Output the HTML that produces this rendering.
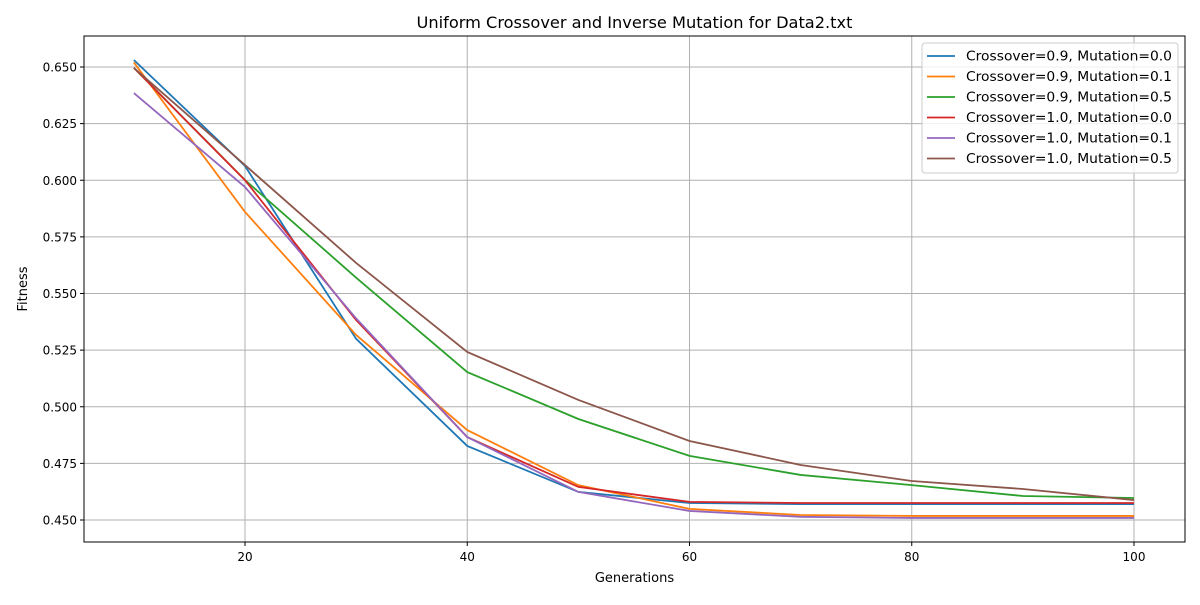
<!DOCTYPE html>
<html><head><meta charset="utf-8"><style>
body{margin:0;background:#fff;font-family:"Liberation Sans","DejaVu Sans",sans-serif;}
svg text{font-family:"DejaVu Sans","Liberation Sans",sans-serif;}
</style></head><body>
<svg id="chart" width="1200" height="600" xmlns="http://www.w3.org/2000/svg">
<rect width="1200" height="600" fill="#fff"/>
<g id="grid"></g><g id="lines"></g><g id="axes"></g>
<text x="634.5" y="28" text-anchor="middle" font-size="16.2">Uniform Crossover and Inverse Mutation for Data2.txt</text>
<text x="634.5" y="582" text-anchor="middle" font-size="13">Generations</text>
<text transform="translate(27,289) rotate(-90)" text-anchor="middle" font-size="13">Fitness</text>
<g id="legend"></g>
</svg>
<script>
const generations=[10,20,30,40,50,60,70,80,90,100];
const seriesNames=["Crossover=0.9, Mutation=0.0","Crossover=0.9, Mutation=0.1","Crossover=0.9, Mutation=0.5","Crossover=1.0, Mutation=0.0","Crossover=1.0, Mutation=0.1","Crossover=1.0, Mutation=0.5"];
const s1=[0.6531,0.6063,0.530,0.4827,0.4624,0.4575,0.457,0.457,0.457,0.457];
const s2=[0.652,0.586,0.5317,0.4897,0.4654,0.4549,0.4522,0.4518,0.4518,0.4518];
const s3=[0.6496,0.6001,0.557,0.5153,0.4946,0.4783,0.4699,0.4654,0.4606,0.4597];
const s4=[0.6496,0.600,0.5383,0.4866,0.4646,0.458,0.4575,0.4575,0.4575,0.4575];
const s5=[0.6385,0.597,0.539,0.4866,0.4624,0.454,0.4514,0.4509,0.4509,0.4509];
const s6=[0.6496,0.6067,0.5635,0.5242,0.503,0.4849,0.4743,0.4672,0.4637,0.4588];
const xTicks=[20,40,60,80,100];
const yTicks=[0.450,0.475,0.500,0.525,0.550,0.575,0.600,0.625,0.650];
const colors=["#1f77b4","#ff7f0e","#2ca02c","#d62728","#9467bd","#8c564b"];
const L=84,R=1185,T=36,B=542;
const xS=v=>245+(v-20)*(1134-245)/80;
const yS=v=>520-(v-0.45)*(520-67)/0.2;
const NS="http://www.w3.org/2000/svg";
function mk(tag,attrs,parent){const e=document.createElementNS(NS,tag);for(const k in attrs)e.setAttribute(k,attrs[k]);parent.appendChild(e);return e;}
const grid=document.getElementById('grid'),axes=document.getElementById('axes'),lines=document.getElementById('lines'),leg=document.getElementById('legend');
xTicks.forEach(t=>{const x=xS(t);
 const g=mk('line',{x1:x,x2:x,y1:T,y2:B,stroke:'#b0b0b0','stroke-width':1},grid);
 
 
 mk('line',{x1:x,x2:x,y1:B,y2:B+4,stroke:'#000'},axes);
 const tx=mk('text',{x:x,y:B+19,'text-anchor':'middle','font-size':12},axes);tx.textContent=t;
 
 
});
yTicks.forEach(t=>{const y=yS(t);
 const g=mk('line',{x1:L,x2:R,y1:y,y2:y,stroke:'#b0b0b0','stroke-width':1},grid);
 
 
 mk('line',{x1:L-4,x2:L,y1:y,y2:y,stroke:'#000'},axes);
 const tx=mk('text',{x:L-7,y:y+4.5,'text-anchor':'end','font-size':12},axes);tx.textContent=t.toFixed(3);
 
 
});
const fr=mk('rect',{x:L,y:T,width:R-L,height:B-T,fill:'none',stroke:'#000','stroke-width':1},axes);


[s1,s2,s3,s4,s5,s6].forEach((s,i)=>{
 const p=mk('polyline',{points:s.map((v,j)=>xS(generations[j])+','+yS(v)).join(' '),fill:'none',stroke:colors[i],'stroke-width':1.8},lines);
 
 
});
const lb=mk('rect',{x:922,y:43,width:256,height:130,fill:'#fff','fill-opacity':0.8,stroke:'#ccc',rx:3},leg);


seriesNames.forEach((n,i)=>{const y=56+i*20.5;
 mk('line',{x1:927,x2:955,y1:y,y2:y,stroke:colors[i],'stroke-width':1.8},leg);
 const t=mk('text',{x:966,y:y+4.5,'font-size':13,textLength:206,lengthAdjust:'spacingAndGlyphs'},leg);t.textContent=n;
 
 
});
</script>
</body></html>
